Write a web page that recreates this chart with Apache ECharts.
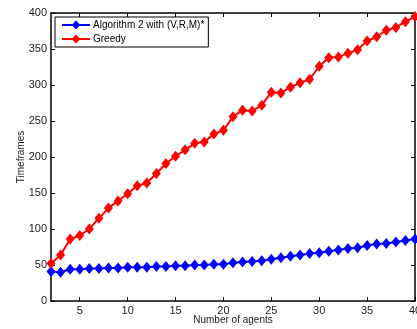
<!DOCTYPE html>
<html>
<head>
<meta charset="utf-8">
<script src="https://cdn.jsdelivr.net/npm/echarts@6/dist/echarts.min.js"></script>
<style>
  html, body { margin: 0; padding: 0; background: #fff; }
  #chart { width: 417px; height: 329px; }
</style>
</head>
<body>
<div id="chart"></div>
<script>
// data
const agents = [2, 3, 4, 5, 6, 7, 8, 9, 10, 11, 12, 13, 14, 15, 16, 17, 18, 19, 20, 21,
  22, 23, 24, 25, 26, 27, 28, 29, 30, 31, 32, 33, 34, 35, 36, 37, 38, 39, 40];
const algoValues = [41, 40, 44, 44, 45, 45, 46, 46, 47, 47, 47, 48, 48, 49, 49, 50, 50, 51, 51, 53,
  54, 55, 56, 58, 60, 62, 64, 66, 67, 69, 71, 73, 74, 77, 79, 80, 82, 84, 86];
const greedyValues = [52, 64, 86, 91, 100, 115, 129, 139, 149, 160, 164, 177, 191, 201, 210, 219, 221, 232, 237, 256,
  265, 264, 272, 290, 289, 297, 303, 308, 326, 338, 339, 344, 349, 361, 367, 376, 380, 388, 395];
const xTicks = [5, 10, 15, 20, 25, 30, 35, 40];
const seriesNames = ['Algorithm 2 with (V,R,M)*', 'Greedy'];

const font = 'Liberation Sans, Arial, sans-serif';
const chart = echarts.init(document.getElementById('chart'), null, { renderer: 'canvas' });

const pairs = (vals) => agents.map((a, i) => [a, vals[i]]);

// MATLAB style box: ticks inside on all four sides
const boxLine = { show: true, onZero: false, lineStyle: { color: '#000', width: 1.5 } };
const tickIn = { show: true, inside: true, length: 4, lineStyle: { color: '#000', width: 1 } };

const option = {
  animation: false,
  backgroundColor: '#fff',
  grid: { left: 51, right: 2, top: 13, bottom: 28, containLabel: false, outerBoundsMode: 'none' },
  legend: {
    orient: 'vertical',
    left: 55,
    top: 17,
    data: seriesNames,
    backgroundColor: '#fff',
    borderColor: '#000',
    borderWidth: 1,
    borderRadius: 0,
    padding: [3, 4, 3, 6],
    itemGap: 4,
    itemWidth: 28,
    itemHeight: 11,
    textStyle: { fontFamily: font, fontSize: 10, color: '#000', padding: [0, 0, 0, -2] }
  },
  xAxis: [
    {
      type: 'value', min: 2, max: 40,
      name: 'Number of agents', nameLocation: 'middle', nameGap: 14, nameMoveOverlap: false,
      nameTextStyle: { fontFamily: font, fontSize: 10, color: '#222' },
      axisLine: boxLine,
      axisTick: Object.assign({ customValues: xTicks }, tickIn),
      axisLabel: { customValues: xTicks, fontFamily: font, fontSize: 11, color: '#222', margin: 4 },
      splitLine: { show: false }
    },
    {
      type: 'value', min: 2, max: 40, position: 'top',
      axisLine: boxLine,
      axisTick: Object.assign({ customValues: xTicks }, tickIn),
      axisLabel: { show: false },
      splitLine: { show: false }
    }
  ],
  yAxis: [
    {
      type: 'value', min: 0, max: 400, interval: 50,
      name: 'Timeframes', nameLocation: 'middle', nameGap: 25, nameRotate: 90, nameMoveOverlap: false,
      nameTextStyle: { fontFamily: font, fontSize: 10, color: '#222' },
      axisLine: boxLine,
      axisTick: tickIn,
      axisLabel: { fontFamily: font, fontSize: 11, color: '#222', margin: 4 },
      splitLine: { show: false }
    },
    {
      type: 'value', min: 0, max: 400, interval: 50, position: 'right',
      axisLine: boxLine,
      axisTick: tickIn,
      axisLabel: { show: false },
      splitLine: { show: false }
    }
  ],
  series: [
    {
      name: seriesNames[0],
      type: 'line',
      data: pairs(algoValues),
      symbol: 'diamond',
      symbolSize: [9, 11],
      showAllSymbol: true,
      itemStyle: { color: '#0000ff' },
      lineStyle: { color: '#0000ff', width: 2 },
      z: 3
    },
    {
      name: seriesNames[1],
      type: 'line',
      data: pairs(greedyValues),
      symbol: 'diamond',
      symbolSize: [9, 11],
      showAllSymbol: true,
      itemStyle: { color: '#ff0000' },
      lineStyle: { color: '#ff0000', width: 2 },
      z: 3
    }
  ]
};

chart.setOption(option);
</script>
</body>
</html>
